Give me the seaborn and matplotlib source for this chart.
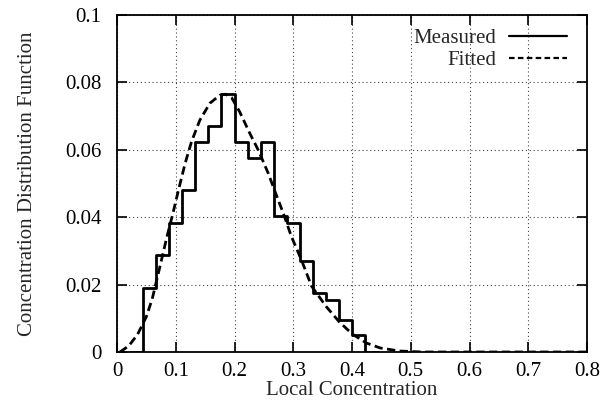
import matplotlib
matplotlib.use("Agg")
import matplotlib.pyplot as plt
import seaborn as sns
import numpy as np
import pandas as pd
from matplotlib.lines import Line2D

# Measured histogram (bin width 1/45); first and last bins are empty
bin_edges = [k/45 for k in range(1, 21)]
measured = [0.0, 0.0190, 0.0288, 0.0383, 0.0481, 0.0624, 0.0670, 0.0766, 0.0624,
            0.0576, 0.0622, 0.0403, 0.0383, 0.0269, 0.0175, 0.0155, 0.0095,
            0.0050, 0.0]

# Fitted curve
fit_x = [0.005, 0.02, 0.035, 0.05, 0.06, 0.073, 0.085, 0.095, 0.105, 0.116,
         0.127, 0.141, 0.158, 0.175, 0.185, 0.195, 0.209, 0.226, 0.2405,
         0.2575, 0.269, 0.283, 0.297, 0.314, 0.331, 0.356, 0.378, 0.4, 0.424,
         0.448, 0.48, 0.52, 0.6, 0.7, 0.8]
fit_y = [0.0, 0.0018, 0.0052, 0.0105, 0.0158, 0.0253, 0.0342, 0.0410, 0.0483,
         0.0560, 0.0625, 0.0688, 0.0738, 0.0762, 0.0765, 0.0755, 0.0712,
         0.0649, 0.0599, 0.0530, 0.0476, 0.0412, 0.0342, 0.0273, 0.0196,
         0.0135, 0.0090, 0.0054, 0.0027, 0.0012, 0.0003, 0.0, 0.0, 0.0, 0.0]

x_ticks = [0, 0.1, 0.2, 0.3, 0.4, 0.5, 0.6, 0.7, 0.8]
x_ticklabels = ["0", "0.1", "0.2", "0.3", "0.4", "0.5", "0.6", "0.7", "0.8"]
y_ticks = [0, 0.02, 0.04, 0.06, 0.08, 0.1]
y_ticklabels = ["0", "0.02", "0.04", "0.06", "0.08", "0.1"]

sns.set_theme(style="white")
plt.rcParams["font.family"] = ["Liberation Serif", "DejaVu Serif"]

fig = plt.figure(figsize=(6.15, 4.05), dpi=100)
ax = fig.add_axes([117/615, 1 - 352/405, 470/615, 337/405])

centers = [(bin_edges[i] + bin_edges[i + 1]) / 2 for i in range(len(measured))]
hist_df = pd.DataFrame({"x": centers, "w": measured})
sns.histplot(data=hist_df, x="x", weights="w", bins=bin_edges, element="step",
             fill=False, color="black", linewidth=2.0, ax=ax, clip_on=True)

fit_df = pd.DataFrame({"x": fit_x, "y": fit_y})
sns.lineplot(data=fit_df, x="x", y="y", color="black", linewidth=2.0,
             linestyle=(0, (3.0, 1.6)), ax=ax)

ax.set_xlim(0, 0.8)
ax.set_ylim(0, 0.1)
ax.set_xticks(x_ticks)
ax.set_xticklabels(x_ticklabels)
ax.set_yticks(y_ticks)
ax.set_yticklabels(y_ticklabels)
ax.grid(True, linestyle=(0, (1, 2.5)), color="#444444", linewidth=0.8)
for s in ax.spines.values():
    s.set_color("black")
    s.set_linewidth(1.3)
    s.set_zorder(5)
ax.tick_params(axis="both", which="major", direction="in", length=7, width=1.2,
               top=True, right=True, bottom=True, left=True, labelsize=15,
               colors="black")
ax.tick_params(axis="x", pad=7)
ax.tick_params(axis="y", pad=11)
ax.set_xlabel("Local Concentration", fontsize=15, labelpad=0)
ax.set_ylabel("Concentration Distribution Function", fontsize=15, labelpad=20)

handles = [Line2D([], [], color="black", linewidth=1.6),
           Line2D([], [], color="black", linewidth=1.6, linestyle=(0, (2.5, 1.5)))]
leg = ax.legend(handles, ["Measured", "Fitted"], loc="upper right",
                markerfirst=False, frameon=False, fontsize=15,
                handlelength=2.8, handletextpad=0.6, labelspacing=0.12,
                borderaxespad=0.0, bbox_to_anchor=(0.975, 0.985))

fig.savefig("out.png", dpi=100)
